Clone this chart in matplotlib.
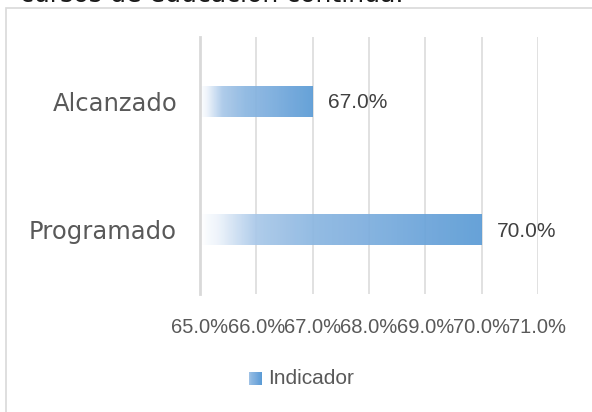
import matplotlib
matplotlib.use("Agg")
import matplotlib.pyplot as plt
import numpy as np
from matplotlib.colors import LinearSegmentedColormap
from matplotlib.patches import Rectangle
from matplotlib.ticker import FuncFormatter

# ---- data ----
categories = ["Alcanzado", "Programado"]
values = [0.67, 0.70]
xticks = [0.65, 0.66, 0.67, 0.68, 0.69, 0.70, 0.71]
series_name = "Indicador"
title_fragment = "cursos de educación continua."

W, H = 592, 412
fig = plt.figure(figsize=(W / 100, H / 100), dpi=100)
fig.patch.set_facecolor("white")

# chart border (cut off at right / bottom as in reference)
fig.add_artist(Rectangle((6 / W, -0.1), 1.2, (H - 8) / H + 0.1,
                         transform=fig.transFigure, fill=False,
                         edgecolor="#d9d9d9", lw=1.2))

# cut-off title text at very top
fig.text(20 / W, (H - 1.5) / H, title_fragment, fontsize=18.2, color="#1a1a1a",
         family="DejaVu Sans", va="baseline", ha="left")

ax = fig.add_axes([200 / W, 1 - 294 / H, 338 / W, 257 / H])
ax.set_xlim(0.65, 0.71)
ax.set_ylim(1.5, -0.5)

grad = LinearSegmentedColormap.from_list(
    "g", [(0.0, "#ffffff"), (0.06, "#eef4fb"), (0.2, "#a9c8e9"),
          (0.4, "#8cb7e1"), (0.6, "#7daede"), (0.8, "#6ba4da"), (1.0, "#5b9bd5")])

ypos = np.arange(len(categories))
bar_h = 0.24
bars = ax.barh(ypos, values, height=bar_h, color="none", edgecolor="none", zorder=2)
x0 = ax.get_xlim()[0]
g = np.linspace(0, 1, 256).reshape(1, -1)
for b, v in zip(bars, values):
    y0 = b.get_y()
    ax.imshow(g, cmap=grad, aspect="auto", alpha=0.93,
              extent=[x0, v, y0 + bar_h, y0], zorder=2, interpolation="bilinear")
    ax.text(v + 0.00275, b.get_y() + bar_h / 2 + 0.01, f"{v*100:.1f}%",
            va="center", ha="left", fontsize=15, color="#404040",
            family="Liberation Sans")

ax.set_xlim(0.65, 0.71)
ax.set_ylim(1.5, -0.5)
ax.set_xticks(xticks)
ax.xaxis.set_major_formatter(FuncFormatter(lambda x, p: f"{x*100:.1f}%"))
ax.set_yticks(ypos)
ax.set_yticklabels(categories)
ax.grid(axis="x", color="#d9d9d9", lw=1.1, zorder=0.5)
ax.set_axisbelow(True)
for s in ["top", "right", "bottom"]:
    ax.spines[s].set_visible(False)
ax.spines["left"].set_color("#d9d9d9")
ax.spines["left"].set_linewidth(2.0)
ax.tick_params(axis="both", length=0)
ax.tick_params(axis="x", pad=17, labelsize=14.5, labelcolor="#595959")
ax.tick_params(axis="y", pad=16.5, labelsize=17.5, labelcolor="#595959")
for t in ax.get_xticklabels():
    t.set_family("Liberation Sans")
for t in ax.get_yticklabels():
    t.set_family("DejaVu Sans")

# legend (manual)
lax = fig.add_axes([249 / W, 1 - 385 / H, 13 / W, 13 / H])
lax.imshow(np.linspace(0.25, 1, 64).reshape(1, -1), cmap=grad, vmin=0, vmax=1,
           aspect="auto", extent=[0, 1, 0, 1])
lax.axis("off")
fig.text(268 / W, 1 - 379 / H, series_name, fontsize=15, color="#595959",
         family="Liberation Sans", va="center", ha="left")

fig.savefig("out.png", dpi=100, facecolor="white")
